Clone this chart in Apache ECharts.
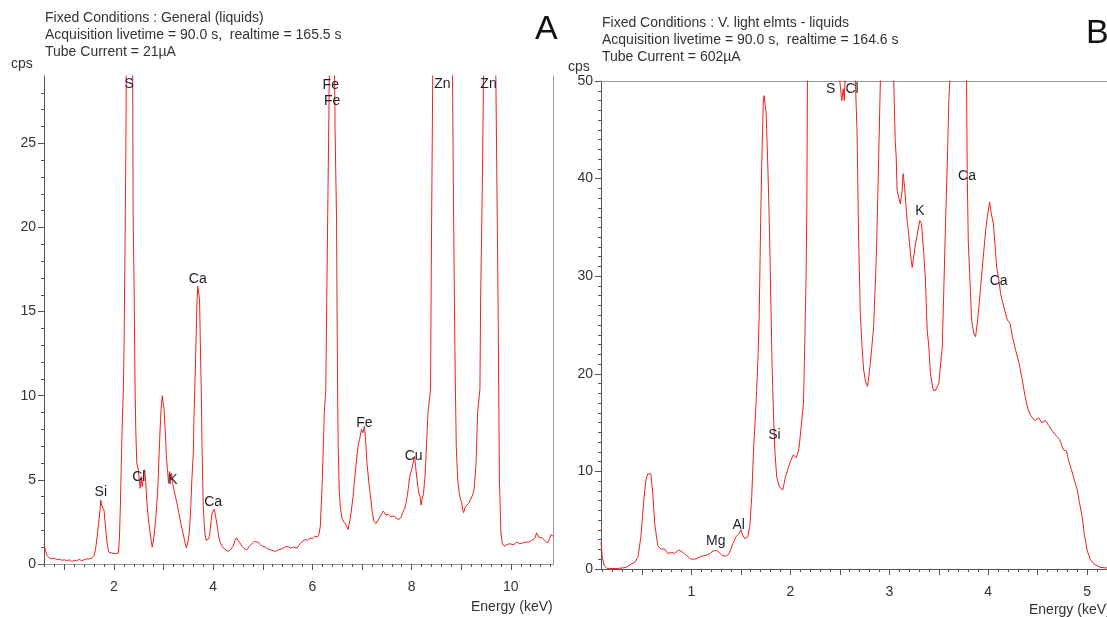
<!DOCTYPE html>
<html>
<head>
<meta charset="utf-8">
<script src="https://cdn.jsdelivr.net/npm/echarts@6/dist/echarts.min.js"></script>
<style>
html,body{margin:0;padding:0;background:#fff;}
#chart{width:1107px;height:617px;}
</style>
</head>
<body>
<div id="chart"></div>
<script>
// ---------- Panel A data (Energy keV, cps) ----------
const spectrumA = [
[0.59,1.2],[0.6,1.1],[0.62,0.8],[0.65,0.5],[0.7,0.35],[0.75,0.3],[0.8,0.35],[0.85,0.25],[0.9,0.3],[0.95,0.22],
[1.0,0.25],[1.05,0.2],[1.1,0.25],[1.15,0.15],[1.2,0.22],[1.25,0.2],[1.3,0.28],[1.35,0.2],[1.4,0.25],[1.45,0.3],
[1.5,0.3],[1.55,0.35],[1.6,0.5],[1.63,0.9],[1.66,1.6],[1.69,2.4],[1.72,3.2],[1.735,3.8],[1.75,3.5],[1.77,3.6],
[1.8,3.2],[1.83,2.2],[1.86,1.3],[1.88,0.9],[1.9,0.7],[1.93,0.8],[1.96,0.65],[2.0,0.75],[2.03,0.6],[2.06,0.7],
[2.09,0.65],[2.11,1.5],[2.13,3.5],[2.16,7.5],[2.189,10.4],[2.203,12.7],[2.223,18.7],[2.234,22.6],[2.244,26.4],[2.25,32],
[2.31,45],[2.375,32],[2.386,20.8],[2.406,16.6],[2.426,10.4],[2.44,8],[2.46,6.0],[2.49,5.6],[2.51,5.0],[2.53,4.5],
[2.55,5.2],[2.57,4.6],[2.6,5.4],[2.62,5.6],[2.64,4.9],[2.66,3.8],[2.69,2.8],[2.72,2.05],[2.75,1.4],[2.77,1.0],
[2.79,1.3],[2.81,1.7],[2.84,2.6],[2.88,4.2],[2.91,6.5],[2.93,8],[2.95,9.2],[2.975,10],[2.99,9.6],[3.01,9.2],
[3.04,7.6],[3.06,6.2],[3.08,5.6],[3.1,4.8],[3.12,5.5],[3.14,5.0],[3.16,5.4],[3.18,4.8],[3.21,4.4],[3.24,4.0],
[3.27,3.6],[3.31,3.0],[3.35,2.4],[3.39,1.85],[3.43,1.3],[3.46,0.95],[3.49,1.3],[3.52,1.9],[3.55,3.5],[3.57,5],
[3.6,6.6],[3.615,9],[3.63,10.4],[3.675,15.7],[3.69,16.5],[3.726,15.7],[3.745,12.5],[3.76,10.4],[3.775,7],[3.8,3.45],
[3.83,1.85],[3.86,1.4],[3.89,1.35],[3.91,1.5],[3.93,1.75],[3.96,2.6],[3.98,3.05],[4.0,3.0],[4.02,3.25],[4.04,3.0],
[4.06,2.65],[4.09,2.1],[4.11,1.65],[4.14,1.3],[4.18,1.05],[4.22,0.9],[4.26,0.8],[4.3,0.75],[4.35,0.85],[4.4,1.05],
[4.44,1.4],[4.47,1.55],[4.5,1.45],[4.54,1.25],[4.58,1.05],[4.63,0.9],[4.68,0.85],[4.73,1.05],[4.78,1.2],[4.83,1.35],
[4.87,1.25],[4.91,1.3],[4.95,1.15],[5.0,1.05],[5.05,1.0],[5.1,0.9],[5.15,0.85],[5.2,0.8],[5.26,0.75],[5.32,0.85],
[5.38,0.9],[5.44,1.0],[5.5,1.05],[5.56,0.95],[5.62,1.0],[5.69,0.95],[5.75,1.2],[5.8,1.35],[5.85,1.45],[5.9,1.4],
[5.95,1.55],[6.0,1.5],[6.05,1.65],[6.1,1.6],[6.13,1.75],[6.16,2.25],[6.2,5],[6.24,9],[6.27,10.4],[6.29,15.7],
[6.315,22.3],[6.345,30],[6.4,45],[6.445,30],[6.457,25.8],[6.487,20.5],[6.497,15.1],[6.508,10.4],[6.52,7],[6.54,4.5],
[6.56,3.45],[6.59,2.8],[6.62,2.55],[6.66,2.4],[6.69,2.25],[6.72,2.05],[6.75,2.5],[6.78,3.05],[6.82,4.0],[6.85,5],
[6.89,6.2],[6.92,7],[6.95,7.4],[6.99,8],[7.02,7.8],[7.05,8.2],[7.08,7.0],[7.1,6],[7.14,4.8],[7.17,4.05],
[7.21,3.0],[7.24,2.55],[7.28,2.4],[7.32,2.45],[7.36,2.8],[7.4,3.0],[7.43,3.15],[7.48,2.9],[7.53,2.95],[7.58,2.8],
[7.64,2.85],[7.7,2.7],[7.75,2.65],[7.79,2.8],[7.82,3.05],[7.86,3.3],[7.89,3.65],[7.93,4.4],[7.96,5.2],[8.0,5.6],
[8.03,6],[8.06,6.4],[8.08,5.8],[8.11,5.0],[8.14,4.3],[8.17,4.0],[8.19,3.5],[8.21,3.85],[8.24,4.2],[8.27,5.2],
[8.3,7],[8.33,9],[8.382,10.4],[8.396,17.5],[8.416,25],[8.43,31],[8.63,70],[8.82,31],[8.843,21.7],[8.873,12.8],
[8.883,10.4],[8.9,7],[8.93,5],[8.96,4.2],[8.99,3.8],[9.01,3.65],[9.03,3.2],[9.05,3.05],[9.08,3.4],[9.12,3.45],
[9.15,3.6],[9.19,3.85],[9.23,4.1],[9.26,4.45],[9.3,6],[9.33,9],[9.377,10.4],[9.391,15.7],[9.43,23.4],[9.452,30],
[9.57,40],[9.695,30],[9.726,20.5],[9.746,14.5],[9.756,10.4],[9.77,5],[9.8,1.85],[9.83,1.2],[9.87,1.05],[9.92,1.15],
[9.97,1.2],[10.01,1.25],[10.06,1.15],[10.12,1.3],[10.18,1.2],[10.24,1.25],[10.3,1.3],[10.36,1.3],[10.42,1.4],[10.48,1.5],
[10.52,1.85],[10.56,1.6],[10.6,1.65],[10.63,1.55],[10.68,1.4],[10.74,1.25],[10.78,1.5],[10.81,1.75],[10.85,1.65]
];
const peakNamesA = ['Si','Cl','K','Ca','Ca','S','Fe','Fe','Zn','Zn','Fe','Cu'];
const peakAtA = [[1.735,4.27],[2.50,5.19],[3.19,5.0],[3.69,16.95],[4.0,3.67],[2.307,28.5],[6.37,28.46],[6.40,27.5],[8.62,28.5],[9.55,28.5],[7.05,8.38],[8.04,6.39]];
const xLabelsA = [2,4,6,8,10];
const xMajorTicksA = [1,2,3,4,5,6,7,8,9,10];
const yLabelsA = [0,5,10,15,20,25];

// ---------- Panel B data (Energy keV, cps) ----------
const spectrumB = [
[0.087,2.75],[0.1,1.2],[0.12,0.35],[0.145,0.07],[0.2,0.05],[0.25,0.05],[0.3,0.1],[0.34,0.17],[0.39,0.5],[0.43,0.7],
[0.46,1.2],[0.49,3.3],[0.52,7.1],[0.54,9.1],[0.56,9.75],[0.59,9.75],[0.61,7.8],[0.63,4.65],[0.66,2.4],[0.69,2.05],
[0.71,2.2],[0.73,2.05],[0.76,1.6],[0.8,1.7],[0.83,1.6],[0.87,1.95],[0.9,1.8],[0.94,1.5],[0.99,1.05],[1.02,1.0],
[1.05,1.05],[1.1,1.3],[1.15,1.4],[1.19,1.6],[1.22,1.85],[1.24,1.8],[1.26,1.9],[1.28,1.7],[1.31,1.4],[1.35,1.3],
[1.38,1.55],[1.42,2.6],[1.45,3.3],[1.48,3.6],[1.5,4.0],[1.52,3.45],[1.54,3.1],[1.57,3.3],[1.59,4.3],[1.61,7.4],
[1.63,12.6],[1.64,14.3],[1.66,18.3],[1.675,22.1],[1.685,25.8],[1.695,32],[1.70,35.5],[1.711,41.3],[1.72,45.1],[1.728,48.2],
[1.735,48.5],[1.748,48.5],[1.755,46.8],[1.772,41.5],[1.785,36.6],[1.795,32],[1.805,26.5],[1.815,21.2],[1.829,16],[1.845,11.9],
[1.863,9.4],[1.89,8.4],[1.924,8.1],[1.95,9.4],[1.981,10.4],[2.0,11.0],[2.031,11.7],[2.06,11.4],[2.085,12.2],[2.099,13.5],
[2.133,17],[2.145,22.7],[2.16,30.3],[2.167,37],[2.173,50],[2.3,120],[2.45,60],[2.5,50],[2.52,48],[2.535,49.2],
[2.545,48],[2.56,52],[2.62,90],[2.657,50],[2.674,44.9],[2.69,34],[2.707,26.2],[2.725,22.7],[2.741,20.4],[2.76,19.2],
[2.781,18.7],[2.809,21.1],[2.842,24.8],[2.869,32],[2.893,42.2],[2.91,50],[2.97,80],[3.03,55],[3.045,50],[3.06,43.9],
[3.07,42.2],[3.079,38.8],[3.095,38.1],[3.112,37.4],[3.13,38.8],[3.14,40.5],[3.155,39.1],[3.18,35.7],[3.195,34.4],[3.214,32.3],
[3.231,30.9],[3.247,32],[3.264,33.3],[3.285,34.4],[3.308,35.7],[3.325,35.4],[3.349,32.3],[3.365,29.6],[3.383,24.5],[3.4,22.7],
[3.416,20],[3.444,18.3],[3.467,18.3],[3.5,19],[3.535,22.7],[3.55,28.2],[3.569,35.7],[3.585,41.1],[3.602,48],[3.612,50],
[3.69,110],[3.77,60],[3.781,50],[3.788,40.2],[3.798,33.7],[3.812,30.3],[3.832,25.5],[3.855,24.1],[3.872,23.8],[3.889,25.2],
[3.906,26.8],[3.923,28.9],[3.95,32],[3.974,34.7],[3.991,36.1],[4.014,37.6],[4.031,36.4],[4.052,35.4],[4.068,33.3],[4.085,30.9],
[4.108,29.6],[4.125,28.2],[4.142,27.5],[4.159,26.8],[4.193,25.5],[4.22,25.2],[4.244,23.8],[4.277,22.4],[4.311,21.1],[4.345,19.3],
[4.37,17.8],[4.4,16.4],[4.43,15.7],[4.47,15.2],[4.51,15.5],[4.54,15],[4.58,15.2],[4.61,14.7],[4.65,14.1],[4.69,13.6],
[4.72,13.3],[4.76,12.2],[4.79,12.1],[4.81,11.2],[4.84,10.2],[4.87,9.1],[4.9,8.1],[4.92,6.9],[4.95,5.3],[4.97,3.6],
[5.0,1.9],[5.03,1.0],[5.07,0.5],[5.13,0.17],[5.2,0.1]
];
const peakNamesB = ['S','Cl','K','Ca','Ca','Si','Al','Mg'];
const peakAtB = [[2.408,49.2],[2.624,49.2],[3.31,36.66],[3.786,40.3],[4.105,29.5],[1.84,13.75],[1.479,4.54],[1.246,2.89]];
const xLabelsB = [1,2,3,4,5];
const xMajorTicksB = [0.5,1,1.5,2,2.5,3,3.5,4,4.5,5];
const yLabelsB = [0,10,20,30,40,50];

// ---------- helpers ----------
function steps(from, to, step, skipEvery) {
  const out = [];
  for (let k = Math.round(from/step); k*step <= to + 1e-9; k++) {
    const v = Math.round(k*step*100)/100;
    if (v < from - 1e-9) continue;
    if (skipEvery && Math.abs(v/skipEvery - Math.round(v/skipEvery)) < 1e-6) continue;
    out.push(v);
  }
  return out;
}
const FONT = '"Liberation Sans", Arial, sans-serif';
const FS = 14;
const RED = '#f01e1e';
const AXC = '#555';
const BORDER = '#9a9a9a';
const TXT = '#333';

const grids = [
  {left: 44, top: 76, width: 509, height: 488, containLabel: false},
  {left: 601, top: 81, width: 506, height: 488, containLabel: false}
];

function mainX(grid, min, max, ticks, labels) {
  return {type:'value', gridIndex:grid, min:min, max:max, position:'bottom',
    axisLine:{show:true, lineStyle:{color:AXC, width:1}},
    axisTick:{show:true, length:6, customValues:ticks, lineStyle:{color:AXC}},
    axisLabel:{show:true, customValues:labels, margin:16, color:TXT, fontSize:FS, fontFamily:FONT},
    splitLine:{show:false}};
}
function minorX(grid, min, max, ticks) {
  return {type:'value', gridIndex:grid, min:min, max:max, position:'bottom',
    axisLine:{show:false}, axisTick:{show:true, length:3, customValues:ticks, lineStyle:{color:AXC}},
    axisLabel:{show:false}, splitLine:{show:false}};
}
function borderX(grid, min, max) {
  return {type:'value', gridIndex:grid, min:min, max:max, position:'top',
    axisLine:{show:true, lineStyle:{color:BORDER, width:1}}, axisTick:{show:false},
    axisLabel:{show:false}, splitLine:{show:false}};
}
function mainY(grid, min, max, ticks) {
  return {type:'value', gridIndex:grid, min:min, max:max, position:'left',
    axisLine:{show:true, lineStyle:{color:AXC, width:1}},
    axisTick:{show:true, length:6, customValues:ticks, lineStyle:{color:AXC}},
    axisLabel:{show:true, customValues:ticks, margin:8, color:TXT, fontSize:FS, fontFamily:FONT},
    splitLine:{show:false}};
}
function minorY(grid, min, max, ticks) {
  return {type:'value', gridIndex:grid, min:min, max:max, position:'left',
    axisLine:{show:false}, axisTick:{show:true, length:3, customValues:ticks, lineStyle:{color:AXC}},
    axisLabel:{show:false}, splitLine:{show:false}};
}
function borderY(grid, min, max) {
  return {type:'value', gridIndex:grid, min:min, max:max, position:'right',
    axisLine:{show:true, lineStyle:{color:BORDER, width:1}}, axisTick:{show:false},
    axisLabel:{show:false}, splitLine:{show:false}};
}

const A_XMIN = 0.59, A_XMAX = 10.85, A_YMAX = 29;
const B_XMIN = 0.087, B_XMAX = 5.2, B_YMAX = 50;

const xAxes = [
  mainX(0, A_XMIN, A_XMAX, xMajorTicksA, xLabelsA),
  minorX(0, A_XMIN, A_XMAX, steps(0.6, 10.8, 0.2, 1)),
  borderX(0, A_XMIN, A_XMAX),
  mainX(1, B_XMIN, B_XMAX, xMajorTicksB, xLabelsB),
  minorX(1, B_XMIN, B_XMAX, steps(0.1, 5.2, 0.1, 0.5)),
  borderX(1, B_XMIN, B_XMAX)
];
const yAxes = [
  mainY(0, 0, A_YMAX, yLabelsA),
  minorY(0, 0, A_YMAX, steps(1, 28, 1, 5)),
  borderY(0, 0, A_YMAX),
  mainY(1, 0, B_YMAX, yLabelsB),
  minorY(1, 0, B_YMAX, steps(1, 49, 1, 10))
];

function peakLabels(names, at) {
  return names.map((n, i) => ({name:n, value:at[i]}));
}
const labelStyle = {show:true, position:'inside', formatter:'{b}', color:'#1e1e2a', fontSize:FS, fontFamily:FONT, opacity:1};

function txt(x, y, s, size, color) {
  return {type:'text', left:x, top:y, z:10, style:{text:s, font:size+'px '+FONT, fill:color||TXT}};
}

const option = {
  animation:false,
  backgroundColor:'#fff',
  grid: grids,
  xAxis: xAxes,
  yAxis: yAxes,
  series: [
    {type:'line', xAxisIndex:0, yAxisIndex:0, data:spectrumA, showSymbol:false, symbol:'none',
     lineStyle:{color:RED, width:1}, clip:true, z:2},
    {type:'line', xAxisIndex:3, yAxisIndex:3, data:spectrumB, showSymbol:false, symbol:'none',
     lineStyle:{color:RED, width:1}, clip:true, z:2},
    {type:'scatter', xAxisIndex:0, yAxisIndex:0, symbol:'circle', symbolSize:0,
     itemStyle:{color:'rgba(0,0,0,0)'},
     data:peakLabels(peakNamesA, peakAtA), label:labelStyle, z:5, clip:false},
    {type:'scatter', xAxisIndex:3, yAxisIndex:3, symbol:'circle', symbolSize:0,
     itemStyle:{color:'rgba(0,0,0,0)'},
     data:peakLabels(peakNamesB, peakAtB), label:labelStyle, z:5, clip:false}
  ],
  graphic: [
    txt(45, 11, 'Fixed Conditions : General (liquids)', FS),
    txt(45, 28, 'Acquisition livetime = 90.0 s,  realtime = 165.5 s', FS),
    txt(45, 45, 'Tube Current = 21\u00b5A', FS),
    txt(11, 57, 'cps', FS),
    txt(535, 13, 'A', 34, '#111'),
    txt(471, 600, 'Energy (keV)', FS),

    txt(602, 16, 'Fixed Conditions : V. light elmts - liquids', FS),
    txt(602, 33, 'Acquisition livetime = 90.0 s,  realtime = 164.6 s', FS),
    txt(602, 50, 'Tube Current = 602\u00b5A', FS),
    txt(568, 60, 'cps', FS),
    txt(1086, 17, 'B', 34, '#111'),
    txt(1029, 603, 'Energy (keV)', FS)
  ]
};
const chart = echarts.init(document.getElementById('chart'), null, {renderer:'canvas'});
chart.setOption(option);
</script>
</body>
</html>
